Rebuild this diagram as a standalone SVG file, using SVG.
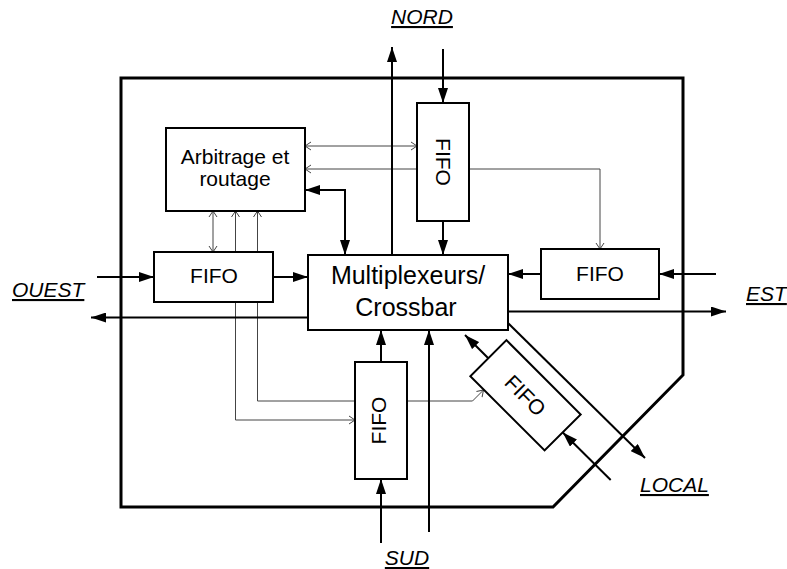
<svg xmlns="http://www.w3.org/2000/svg" width="787" height="569" viewBox="0 0 787 569">
<style>
.box{fill:#fff;stroke:#000;stroke-width:2}
.txt{font-family:"Liberation Sans",Arial,sans-serif;font-size:21px;fill:#000;text-anchor:middle}
.big{font-size:25px}
.lbl{font-family:"Liberation Sans",Arial,sans-serif;font-size:21px;font-style:italic;text-decoration:underline;fill:#000}
.thick{fill:none;stroke:#000;stroke-width:2;marker-end:url(#arr)}
.thin{fill:none;stroke:#444;stroke-width:1;marker-end:url(#oarr)}
</style>
<defs>
<marker id="arr" markerUnits="userSpaceOnUse" markerWidth="15" markerHeight="10" refX="15" refY="5" orient="auto-start-reverse"><path d="M0,0 L15,5 L0,10 z" fill="#000"/></marker>
<marker id="oarr" markerUnits="userSpaceOnUse" markerWidth="8" markerHeight="10" refX="7" refY="5" orient="auto-start-reverse"><path d="M1,1 L7,5 L1,9" fill="none" stroke="#444" stroke-width="1"/></marker>
</defs>
<rect width="787" height="569" fill="#fff"/>
<polygon id="routeur" points="121,78 683,78 683,375 553,507 121,507" fill="none" stroke="#000" stroke-width="3"/>
<g id="connectors">
<path class="thin" d="M305,146 H417" marker-start="url(#oarr)"/>
<path class="thin" d="M417,169 H305"/>
<path class="thin" d="M469,169 H600 V249"/>
<path class="thin" d="M213,211 V252" marker-start="url(#oarr)"/>
<path class="thin" d="M355,420 H235.5 V211" marker-start="url(#oarr)"/>
<path class="thin" d="M483.5,390 L472.5,401 H257.5 V211" marker-start="url(#oarr)"/>
<path class="thick" d="M392,255 V47"/>
<path class="thick" d="M443,49 V103"/>
<path class="thick" d="M443,221 V255"/>
<path class="thick" d="M305,190 H345 V255" marker-start="url(#arr)"/>
<path class="thick" d="M97,277 H154"/>
<path class="thick" d="M273,277 H308"/>
<path class="thick" d="M308,317.5 H91"/>
<path class="thick" d="M716,274 H659"/>
<path class="thick" d="M541,274 H508"/>
<path class="thick" d="M508,311.5 H726"/>
<path class="thick" d="M381,543 V479"/>
<path class="thick" d="M381,362 V330"/>
<path class="thick" d="M429,532 V330"/>
<path class="thick" d="M508,323 L645,458"/>
<path class="thick" d="M488.3,358.2 L465,335"/>
<path class="thick" d="M610.7,480 L562.8,432.5"/>
</g>
<g id="arbitrage">
<rect class="box" x="166" y="128" width="139" height="83"/>
<text class="txt" x="235" y="164">Arbitrage et</text>
<text class="txt" x="235" y="186">routage</text>
</g>
<g id="mux">
<rect class="box" x="308" y="255" width="200" height="75"/>
<text class="txt big" x="408" y="284">Multiplexeurs/</text>
<text class="txt big" x="406" y="316">Crossbar</text>
</g>
<g id="fifo-nord">
<rect class="box" x="417" y="103" width="52" height="118"/>
<text class="txt" transform="translate(443,162) rotate(90)" x="0" y="7.5">FIFO</text>
</g>
<g id="fifo-ouest">
<rect class="box" x="154" y="252" width="119" height="50"/>
<text class="txt" x="214" y="283">FIFO</text>
</g>
<g id="fifo-est">
<rect class="box" x="541" y="249" width="118" height="50"/>
<text class="txt" x="600" y="281">FIFO</text>
</g>
<g id="fifo-sud">
<rect class="box" x="355" y="362" width="52" height="117"/>
<text class="txt" transform="translate(378,420.5) rotate(-90)" x="0" y="7.5">FIFO</text>
</g>
<g id="fifo-local" transform="translate(525.5,395.3) rotate(45)">
<rect class="box" x="-52.5" y="-25.5" width="105" height="51"/>
<text class="txt" x="0" y="7.5">FIFO</text>
</g>
<g id="labels">
<text class="lbl" x="422" y="24" text-anchor="middle">NORD</text>
<text class="lbl" x="12" y="297">OUEST</text>
<text class="lbl" x="746" y="301">EST</text>
<text class="lbl" x="640" y="492">LOCAL</text>
<text class="lbl" x="407" y="565" text-anchor="middle">SUD</text>
</g>
</svg>
